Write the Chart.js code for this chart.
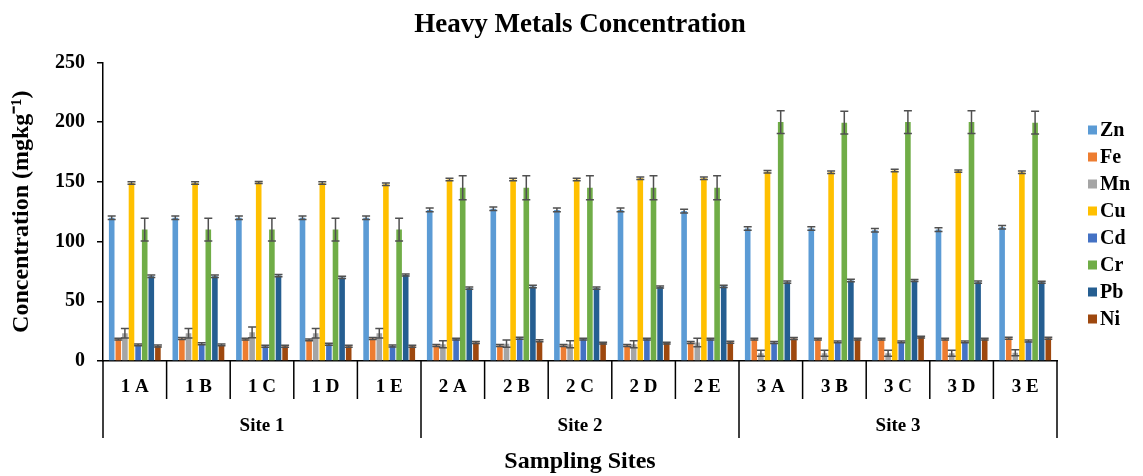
<!DOCTYPE html>
<html>
<head>
<meta charset="utf-8">
<script src="https://cdn.jsdelivr.net/npm/chart.js@4.4.0/dist/chart.umd.min.js"></script>
<style>
  html, body { margin: 0; padding: 0; background: #fff; }
</style>
</head>
<body>
<canvas id="metalsChart" width="1143" height="476"></canvas>
<script>
const samples = ['1 A', '1 B', '1 C', '1 D', '1 E', '2 A', '2 B', '2 C', '2 D', '2 E', '3 A', '3 B', '3 C', '3 D', '3 E'];
const sites = ['Site 1', 'Site 2', 'Site 3'];
const metals = ['Zn', 'Fe', 'Mn', 'Cu', 'Cd', 'Cr', 'Pb', 'Ni'];
const colors = ['#5B9BD5', '#ED7D31', '#A5A5A5', '#FFC000', '#4472C4', '#70AD47', '#255E91', '#9E480E'];

// mean concentrations (mg/kg) per sample
const zn = [120, 120, 120, 120, 120, 126.5, 127.5, 126.5, 126.5, 125.5, 111, 111, 109.5, 110, 112];
const fe = [18.3, 18.8, 18.3, 17.7, 18.8, 13, 13, 13, 13, 15.5, 18.3, 18.3, 18.3, 18.3, 19];
const mn = [23.3, 23.3, 24, 23.3, 23.3, 14, 14.5, 14, 14, 15.5, 6.5, 6.5, 6.5, 6.5, 7];
const cu = [149, 149, 149.5, 149, 148, 152, 152, 152, 153, 153, 158.5, 158, 159.5, 159, 158];
const cd = [13.5, 14.5, 12.3, 14, 12.6, 18.3, 19.1, 18.3, 18.3, 18.3, 15.5, 16, 16, 16, 16.8];
const cr = [110, 110, 110, 110, 110, 145, 145, 145, 145, 145, 200, 199.5, 200, 200, 199.5];
const pb = [71, 71, 71.5, 70, 72, 61, 62.4, 61, 62, 62.5, 66, 67.4, 67.4, 66, 66];
const ni = [12.6, 13.5, 12.3, 12.3, 12.3, 15.5, 16.9, 15, 15, 15.7, 18.9, 18.3, 20, 18.3, 19];

// standard deviations
const znErr = [1.5, 1.5, 1.5, 1.5, 1.5, 1.5, 1.5, 1.5, 1.5, 1.5, 1.5, 1.5, 1.5, 1.5, 1.5];
const feErr = [0.8, 0.8, 0.8, 0.8, 0.8, 0.8, 0.8, 0.8, 0.8, 0.8, 0.8, 0.8, 0.8, 0.8, 0.8];
const mnErr = [4, 4, 4.5, 4, 4, 3, 3, 3, 3, 3.5, 2.5, 2.5, 2.5, 2.5, 2.5];
const cuErr = [1, 1, 0.8, 1, 1, 1, 1, 1, 1, 1, 1, 1, 1, 1, 1];
const cdErr = [0.8, 0.8, 0.8, 0.8, 0.8, 0.8, 0.8, 0.8, 0.8, 0.8, 0.8, 0.8, 0.8, 0.8, 0.8];
const crErr = [9.5, 9.5, 9.5, 9.5, 9.5, 10, 10, 10, 10, 10, 9.5, 9.5, 9.5, 9.5, 9.5];
const pbErr = [1, 1, 1, 1, 0.8, 1, 1, 1, 0.8, 1, 1, 1, 0.8, 1, 0.8];
const niErr = [0.8, 0.8, 0.8, 0.8, 0.8, 0.8, 0.8, 0.8, 0.8, 0.8, 0.8, 0.8, 0.8, 0.8, 0.8];

const values = [zn, fe, mn, cu, cd, cr, pb, ni];
const errors = [znErr, feErr, mnErr, cuErr, cdErr, crErr, pbErr, niErr];

const FONT = "'Liberation Serif', 'Times New Roman', serif";

const errorBars = {
  id: 'errorBars',
  afterDatasetsDraw(chart) {
    const { ctx } = chart;
    const y = chart.scales.y;
    ctx.save();
    ctx.strokeStyle = '#505050';
    ctx.lineWidth = 1.5;
    chart.data.datasets.forEach((ds, i) => {
      chart.getDatasetMeta(i).data.forEach((bar, j) => {
        const top = y.getPixelForValue(ds.data[j] + ds.errors[j]);
        const bot = y.getPixelForValue(Math.max(0, ds.data[j] - ds.errors[j]));
        ctx.beginPath();
        ctx.moveTo(bar.x, top); ctx.lineTo(bar.x, bot);
        ctx.moveTo(bar.x - 4, top); ctx.lineTo(bar.x + 4, top);
        ctx.moveTo(bar.x - 4, bot); ctx.lineTo(bar.x + 4, bot);
        ctx.stroke();
      });
    });
    ctx.restore();
  }
};

// two-level category axis (samples / sites) plus the legend on the right
const groupAxis = {
  id: 'groupAxis',
  afterDraw(chart) {
    const { ctx } = chart;
    const x = chart.scales.x;
    const base = x.top;
    const step = x.getPixelForValue(1) - x.getPixelForValue(0);
    const perSite = samples.length / sites.length;
    ctx.save();
    ctx.strokeStyle = '#000';
    ctx.fillStyle = '#000';
    ctx.lineWidth = 1.5;
    ctx.textAlign = 'center';
    ctx.textBaseline = 'middle';

    for (let i = 0; i <= samples.length; i++) {
      const edge = x.getPixelForValue(i) - step / 2;
      const len = i % perSite === 0 ? 77 : 38;
      ctx.beginPath();
      ctx.moveTo(edge, base);
      ctx.lineTo(edge, base + len);
      ctx.stroke();
    }
    ctx.font = 'bold 19px ' + FONT;
    samples.forEach((s, i) => ctx.fillText(s, x.getPixelForValue(i), base + 26));
    sites.forEach((s, g) => {
      const cx = (x.getPixelForValue(g * perSite) + x.getPixelForValue(g * perSite + perSite - 1)) / 2;
      ctx.fillText(s, cx, base + 65);
    });

    // legend
    ctx.textAlign = 'left';
    ctx.font = 'bold 20px ' + FONT;
    metals.forEach((m, i) => {
      const ly = 130 + i * 27;
      ctx.fillStyle = colors[i];
      ctx.fillRect(1088, ly - 4.5, 9, 9);
      ctx.fillStyle = '#000';
      ctx.fillText(m, 1100, ly + 1);
    });
    ctx.restore();
  }
};

new Chart(document.getElementById('metalsChart'), {
  type: 'bar',
  data: {
    labels: samples,
    datasets: metals.map((m, i) => ({
      label: m,
      data: values[i],
      errors: errors[i],
      backgroundColor: colors[i],
      barPercentage: 0.85,
      categoryPercentage: 0.83,
    })),
  },
  options: {
    responsive: false,
    animation: false,
    layout: { padding: { left: 0, right: 86, top: 0, bottom: 0 } },
    plugins: {
      legend: { display: false },
      tooltip: { enabled: false },
      title: {
        display: true,
        fullSize: false,
        text: 'Heavy Metals Concentration',
        color: '#000',
        font: { family: FONT, size: 27, weight: 'bold' },
        padding: { top: 9, bottom: 21 },
      },
    },
    scales: {
      x: {
        ticks: { display: false },
        grid: { display: false },
        border: { display: true, color: '#000', width: 1.5 },
        title: {
          display: true,
          text: 'Sampling Sites',
          color: '#000',
          font: { family: FONT, size: 24, weight: 'bold' },
          padding: { top: 0, bottom: 0 },
        },
        afterFit(scale) { scale.height = 115; },
      },
      y: {
        min: 0,
        max: 250,
        ticks: {
          stepSize: 50,
          color: '#000',
          padding: 12,
          font: { family: FONT, size: 20, weight: 'bold' },
        },
        grid: { drawOnChartArea: false, drawTicks: true, tickLength: 6, color: '#000', lineWidth: 1.5 },
        border: { color: '#000', width: 1.5 },
        title: {
          display: true,
          text: 'Concentration (mgkg\u207B\u00B9)',
          color: '#000',
          font: { family: FONT, size: 24, weight: 'bold' },
          padding: { top: 7, bottom: 0 },
        },
        afterFit(scale) { scale.width = 103; },
      },
    },
  },
  plugins: [errorBars, groupAxis],
});
</script>
</body>
</html>
